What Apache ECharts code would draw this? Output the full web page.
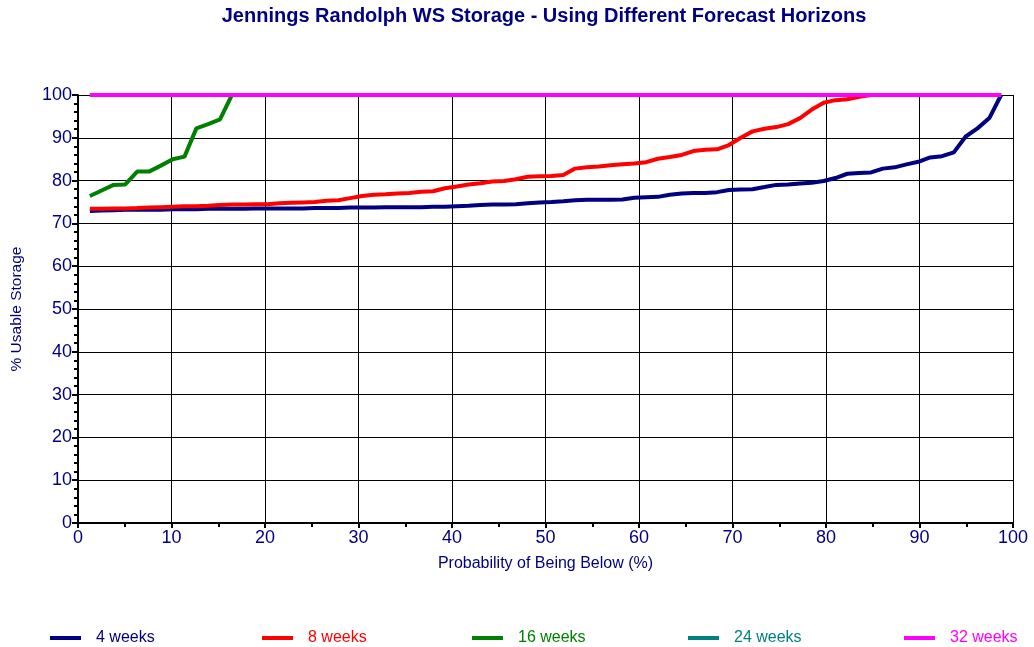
<!DOCTYPE html>
<html>
<head>
<meta charset="utf-8">
<title>Jennings Randolph WS Storage</title>
<script src="https://cdn.jsdelivr.net/npm/echarts@6/dist/echarts.min.js"></script>
<style>
  html, body { margin: 0; padding: 0; background: #fff; }
  #main { width: 1034px; height: 647px; }
</style>
</head>
<body>
<div id="main"></div>
<script>
// probability of being below (%), one value per ranked year
var prob = [
  1.27, 2.53, 3.80, 5.06, 6.33, 7.59, 8.86, 10.13, 11.39, 12.66,
  13.92, 15.19, 16.46, 17.72, 18.99, 20.25, 21.52, 22.78, 24.05, 25.32,
  26.58, 27.85, 29.11, 30.38, 31.65, 32.91, 34.18, 35.44, 36.71, 37.97,
  39.24, 40.51, 41.77, 43.04, 44.30, 45.57, 46.84, 48.10, 49.37, 50.63,
  51.90, 53.16, 54.43, 55.70, 56.96, 58.23, 59.49, 60.76, 62.03, 63.29,
  64.56, 65.82, 67.09, 68.35, 69.62, 70.89, 72.15, 73.42, 74.68, 75.95,
  77.22, 78.48, 79.75, 81.01, 82.28, 83.54, 84.81, 86.08, 87.34, 88.61,
  89.87, 91.14, 92.41, 93.67, 94.94, 96.20, 97.47, 98.73
];

var weeks4 = [
  72.9, 73.0, 73.1, 73.2, 73.2, 73.2, 73.2, 73.3, 73.3, 73.3,
  73.4, 73.4, 73.4, 73.4, 73.5, 73.5, 73.5, 73.5, 73.5, 73.6,
  73.6, 73.6, 73.7, 73.7, 73.7, 73.8, 73.8, 73.8, 73.8, 73.9,
  73.9, 74.0, 74.1, 74.3, 74.4, 74.4, 74.5, 74.7, 74.9, 75.0,
  75.2, 75.4, 75.5, 75.5, 75.5, 75.6, 76.0, 76.1, 76.2, 76.7,
  77.0, 77.1, 77.1, 77.3, 77.8, 77.9, 78.0, 78.5, 79.0, 79.1,
  79.3, 79.5, 79.9, 80.6, 81.6, 81.8, 81.9, 82.8, 83.1, 83.8,
  84.4, 85.4, 85.7, 86.6, 90.3, 92.2, 94.6, 100
];

var weeks8 = [
  73.4, 73.4, 73.5, 73.5, 73.6, 73.7, 73.8, 73.9, 74.0, 74.0,
  74.1, 74.3, 74.4, 74.4, 74.5, 74.5, 74.7, 74.8, 74.9, 75.0,
  75.3, 75.4, 75.9, 76.4, 76.7, 76.8, 77.0, 77.1, 77.4, 77.5,
  78.2, 78.6, 79.1, 79.4, 79.8, 79.9, 80.3, 80.9, 81.0, 81.1,
  81.3, 82.8, 83.1, 83.3, 83.6, 83.8, 84.0, 84.3, 85.1, 85.5,
  86.0, 86.9, 87.2, 87.3, 88.3, 90.0, 91.5, 92.1, 92.5, 93.2,
  94.6, 96.6, 98.2, 98.8, 99.0, 99.6, 100, 100, 100, 100,
  100, 100, 100, 100, 100, 100, 100, 100
];

var weeks16 = [
  76.4, 77.7, 79.0, 79.1, 82.1, 82.1, 83.5, 85.0, 85.6, 92.2,
  93.2, 94.3, 100, 100, 100, 100, 100, 100, 100, 100,
  100, 100, 100, 100, 100, 100, 100, 100, 100, 100,
  100, 100, 100, 100, 100, 100, 100, 100, 100, 100,
  100, 100, 100, 100, 100, 100, 100, 100, 100, 100,
  100, 100, 100, 100, 100, 100, 100, 100, 100, 100,
  100, 100, 100, 100, 100, 100, 100, 100, 100, 100,
  100, 100, 100, 100, 100, 100, 100, 100
];

var weeks24 = [
  100, 100, 100, 100, 100, 100, 100, 100, 100, 100,
  100, 100, 100, 100, 100, 100, 100, 100, 100, 100,
  100, 100, 100, 100, 100, 100, 100, 100, 100, 100,
  100, 100, 100, 100, 100, 100, 100, 100, 100, 100,
  100, 100, 100, 100, 100, 100, 100, 100, 100, 100,
  100, 100, 100, 100, 100, 100, 100, 100, 100, 100,
  100, 100, 100, 100, 100, 100, 100, 100, 100, 100,
  100, 100, 100, 100, 100, 100, 100, 100
];

var weeks32 = [
  100, 100, 100, 100, 100, 100, 100, 100, 100, 100,
  100, 100, 100, 100, 100, 100, 100, 100, 100, 100,
  100, 100, 100, 100, 100, 100, 100, 100, 100, 100,
  100, 100, 100, 100, 100, 100, 100, 100, 100, 100,
  100, 100, 100, 100, 100, 100, 100, 100, 100, 100,
  100, 100, 100, 100, 100, 100, 100, 100, 100, 100,
  100, 100, 100, 100, 100, 100, 100, 100, 100, 100,
  100, 100, 100, 100, 100, 100, 100, 100
];

var names = ['4 weeks', '8 weeks', '16 weeks', '24 weeks', '32 weeks'];
var colors = ['#000080', '#ff0000', '#008000', '#008080', '#ff00ff'];
var values = [weeks4, weeks8, weeks16, weeks24, weeks32];
var legendLeft = [45, 257, 467, 683, 899];

function pairs(ys) {
    return prob.map(function (p, i) { return [p, ys[i]]; });
}

var myChart = echarts.init(document.getElementById('main'));

var series = [];
var legends = [];
for (var k = 0; k < names.length; k++) {
    series.push({
        name: names[k],
        type: 'line',
        data: pairs(values[k]),
        showSymbol: false,
        symbol: 'none',
        color: colors[k],
        lineStyle: { width: 4, color: colors[k] }
    });
    legends.push({
        data: [names[k]],
        left: legendLeft[k],
        top: 625,
        itemWidth: 31,
        itemHeight: 4,
        icon: 'rect',
        textStyle: {
            color: colors[k],
            fontSize: 16,
            fontFamily: 'Liberation Sans',
            padding: [0, 0, 0, 10]
        }
    });
}

var option = {
    animation: false,
    backgroundColor: '#fff',
    title: {
        text: 'Jennings Randolph WS Storage - Using Different Forecast Horizons',
        left: 539,
        textAlign: 'center',
        top: 1,
        textStyle: {
            color: '#000080',
            fontSize: 20,
            fontWeight: 'bold',
            fontFamily: 'Liberation Sans'
        }
    },
    legend: legends,
    grid: { left: 78, right: 21, top: 95, bottom: 124, containLabel: false },
    xAxis: {
        type: 'value',
        min: 0,
        max: 100,
        interval: 10,
        name: 'Probability of Being Below (%)',
        nameLocation: 'middle',
        nameGap: 33,
        nameTextStyle: { color: '#000080', fontSize: 16, fontFamily: 'Liberation Sans' },
        axisLine: { show: true, onZero: false, lineStyle: { color: '#000', width: 2 } },
        axisTick: { show: true, length: 5, lineStyle: { color: '#000', width: 2 } },
        minorTick: { show: true, splitNumber: 2, length: 4, lineStyle: { color: '#000', width: 2 } },
        axisLabel: { color: '#000080', fontSize: 18, margin: 6, fontFamily: 'Liberation Sans' },
        splitLine: { show: true, lineStyle: { color: '#000', width: 1 } }
    },
    yAxis: {
        type: 'value',
        min: 0,
        max: 100,
        interval: 10,
        name: '% Usable Storage',
        nameLocation: 'middle',
        nameGap: 53,
        nameRotate: 90,
        nameTextStyle: { color: '#000080', fontSize: 15.5, fontFamily: 'Liberation Sans' },
        axisLine: { show: true, lineStyle: { color: '#000', width: 2 } },
        axisTick: { show: true, length: 6, lineStyle: { color: '#000', width: 2 } },
        minorTick: { show: true, splitNumber: 5, length: 4, lineStyle: { color: '#000', width: 2 } },
        axisLabel: { color: '#000080', fontSize: 18, margin: 6, fontFamily: 'Liberation Sans' },
        splitLine: { show: true, lineStyle: { color: '#000', width: 1 } }
    },
    series: series
};

myChart.setOption(option);
</script>
</body>
</html>
